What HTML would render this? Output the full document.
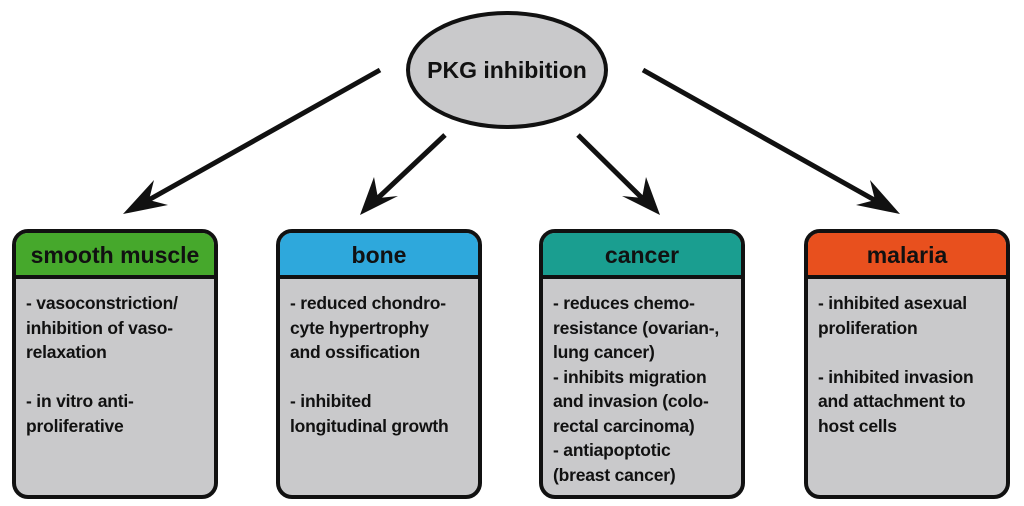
<!DOCTYPE html>
<html><head><meta charset="utf-8"><style>
body{margin:0;width:1024px;height:506px;background:#fff;position:relative;overflow:hidden;font-family:"Liberation Sans",sans-serif;font-weight:bold}
.box{position:absolute;top:229px;width:198px;height:262px;border:4px solid #111;border-radius:16px;background:#c9c9cb;overflow:hidden}
.hd{height:42px;border-bottom:4px solid #111;text-align:center;font-size:23px;line-height:44px;color:#111}
.bd{padding:12px 8px 0 10px;font-size:17.5px;line-height:24.5px;color:#111;letter-spacing:-0.2px;white-space:nowrap}
</style></head><body>
<svg width="1024" height="506" style="position:absolute;left:0;top:0">
<ellipse cx="507" cy="70" rx="99" ry="57" fill="#c9c9cb" stroke="#111" stroke-width="4"/>
<text x="507" y="78" text-anchor="middle" font-family="Liberation Sans" font-weight="bold" font-size="23" fill="#111">PKG inhibition</text>
<g stroke="#111" stroke-width="5" fill="#111">
<line x1="380" y1="70" x2="145" y2="202"/>
<line x1="445" y1="135" x2="378" y2="198"/>
<line x1="578" y1="135" x2="642" y2="198"/>
<line x1="643" y1="70" x2="878" y2="202"/>
</g>
<g fill="#111">
<polygon points="123,214 154,180 149,200 168,205"/>
<polygon points="360,215 374,177 378,198 398,196"/>
<polygon points="660,215 622,196 642,198 646,177"/>
<polygon points="900,214 856,205 875,200 870,180"/>
</g>
</svg>
<div class="box" style="left:12px"><div class="hd" style="background:#46a82c">smooth muscle</div><div class="bd">- vasoconstriction/<br>inhibition of vaso-<br>relaxation<br><br>- in vitro anti-<br>proliferative</div></div>
<div class="box" style="left:276px"><div class="hd" style="background:#2ea8dc">bone</div><div class="bd">- reduced chondro-<br>cyte hypertrophy<br>and ossification<br><br>- inhibited<br>longitudinal growth</div></div>
<div class="box" style="left:539px"><div class="hd" style="background:#1a9e90">cancer</div><div class="bd">- reduces chemo-<br>resistance (ovarian-,<br>lung cancer)<br>- inhibits migration<br>and invasion (colo-<br>rectal carcinoma)<br>- antiapoptotic<br>(breast cancer)</div></div>
<div class="box" style="left:804px"><div class="hd" style="background:#e8501e">malaria</div><div class="bd">- inhibited asexual<br>proliferation<br><br>- inhibited invasion<br>and attachment to<br>host cells</div></div>
</body></html>
